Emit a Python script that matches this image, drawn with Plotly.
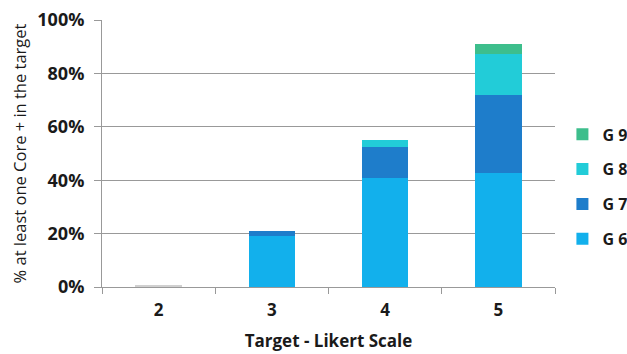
import plotly.graph_objects as go

categories = ["2", "3", "4", "5"]
g6 = [0, 19.0, 41.0, 42.6]
g7 = [0, 1.8, 11.3, 29.3]
g8 = [0, 0, 2.7, 15.3]
g9 = [0, 0, 0, 3.7]
baseline = [0.4, 0, 0, 0]
series_names = ["G 6", "G 7", "G 8", "G 9"]
series_vals = [g6, g7, g8, g9]
colors = ["#12B0EC", "#1E7DCB", "#22CCD8", "#3DBE8C"]

fig = go.Figure()
fig.add_trace(go.Bar(
    x=categories, y=baseline, name="", showlegend=False, legendgroup="base",
    marker=dict(color="#D0D0D0", line=dict(width=0)), width=0.41,
))
for i, (name, vals) in enumerate(zip(series_names, series_vals)):
    fig.add_trace(go.Bar(
        x=categories, y=vals, name=name, legendgroup=name,
        legendrank=100 - i,
        marker=dict(color=colors[i], line=dict(width=0)),
        width=0.41,
    ))

font_family = "Open Sans, Liberation Sans, Arial, sans-serif"
fig.update_layout(
    barmode="stack",
    width=627, height=354,
    margin=dict(l=102, r=72, t=20, b=67, autoexpand=False),
    paper_bgcolor="white", plot_bgcolor="white",
    font=dict(family=font_family, color="#1a1a1a", size=15),
    legend=dict(
        xref="container", yref="container",
        x=0.897, y=0.472, xanchor="left", yanchor="middle",
        traceorder="grouped", tracegroupgap=11,
        font=dict(size=16, family=font_family, weight="bold"),
        itemwidth=30,
    ),
    showlegend=True,
)
fig.update_xaxes(
    type="category",
    showline=True, linecolor="#999", linewidth=1,
    ticks="outside", tickson="boundaries", ticklen=6, tickcolor="#999",
    tickfont=dict(size=17, weight="bold"),
    ticklabelstandoff=8,
    title=dict(text="Target - Likert Scale", font=dict(size=17, weight="bold"), standoff=14),
)
fig.update_yaxes(
    range=[0, 100], dtick=20, ticksuffix="%",
    showline=True, linecolor="#999", linewidth=1,
    showgrid=True, gridcolor="#999", gridwidth=1,
    ticks="outside", ticklen=7, tickcolor="#999",
    tickfont=dict(size=18, weight="bold"),
    ticklabelstandoff=6,
    title=dict(text="% at least one Core + in the target", font=dict(size=16.5), standoff=6),
    zeroline=False,
)
fig.write_html("out.html")
